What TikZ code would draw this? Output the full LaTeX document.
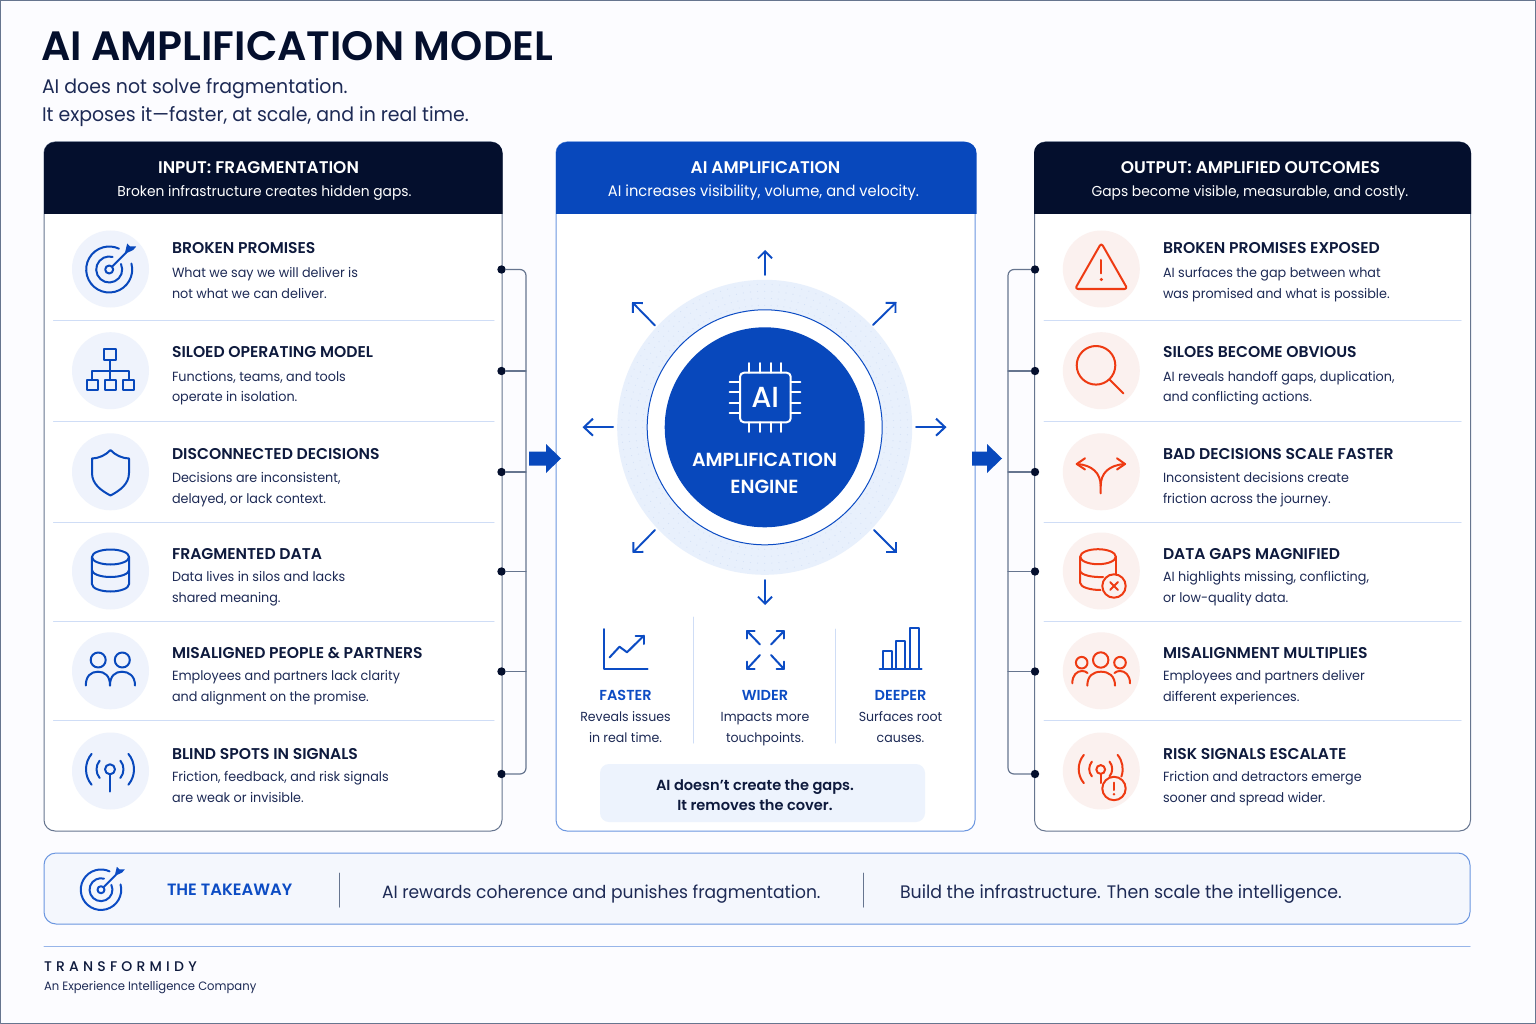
\documentclass[tikz,border=0pt]{standalone}
\usepackage{fontspec}
\usetikzlibrary{arrows.meta}
\setmainfont{Poppins}[FakeStretch=0.96]
\newfontfamily\fsemi{Poppins SemiBold}
\newfontfamily\fmed{Poppins Medium}
\definecolor{navy}{HTML}{040F2D}
\definecolor{ink}{HTML}{0E1A3D}
\definecolor{bodyink}{HTML}{1D2A55}
\definecolor{royal}{HTML}{0848BC}
\definecolor{ablue}{HTML}{0C4CC4}
\definecolor{rust}{HTML}{EE3A12}
\definecolor{sep}{HTML}{CFDDF6}
\definecolor{lgrey}{HTML}{66758F}
\definecolor{mblue}{HTML}{6B96E0}
\definecolor{pale}{HTML}{E8F0FC}
\definecolor{iconl}{HTML}{EFF3FC}
\definecolor{iconr}{HTML}{FBF1EF}
\newcommand\txt[5][]{\node[txtbase,#1] (#2) at (#3,#4) {#5};}
\newcommand\rowtext[8]{%
  \txt[rowtitle]{#1a}{#2}{#3}{#6}
  \txt[rowbody]{#1b}{#2}{#4}{#7}
  \txt[rowbody]{#1c}{#2}{#5}{#8}}
\newcommand\targeticon[4]{% x y scale colour
 \begin{scope}[shift={(#1,#2)},scale=#3,#4,line width=2pt]
  \draw (0,0) +(-15:23) arc (-15:295:23);
  \draw (0,0) +(-25:13) arc (-25:285:13);
  \draw (0,0) circle (4);
  \draw (2.8,-2.8) -- (17,-17);
  \fill[line width=.5pt] (15.5,-15.5) -- (18,-26) -- (21,-23) -- (27,-23) -- (24,-19.5) -- cycle;
 \end{scope}}
\begin{document}
\begin{tikzpicture}[x=1pt,y=1pt,yscale=-1,line cap=round,line join=round,
  txtbase/.style={inner sep=0pt,outer sep=0pt,anchor=base west,text=ink},
  rowtitle/.style={font=\fontsize{15.6}{17}\fsemi,text=ink},
  rowbody/.style={font=\fontsize{13.3}{15}\selectfont,text=bodyink},
  headtitle/.style={inner sep=0pt,anchor=base,text=white,font=\fontsize{16.9}{18}\fsemi},
  headsub/.style={inner sep=0pt,anchor=base,text=white,font=\fontsize{14.4}{16}\selectfont},
  colhead/.style={inner sep=0pt,anchor=base,text=ablue,font=\fontsize{14.5}{16}\fsemi},
  coltext/.style={inner sep=0pt,anchor=base,text=bodyink,font=\fontsize{13.1}{15}\selectfont},
  panel/.style={draw,rounded corners=11pt,minimum width=#1,inner sep=0pt,outer sep=0pt,fill=white,line width=1pt},
  iconbg/.style={circle,inner sep=0pt,outer sep=0pt,minimum size=77pt},
  dotn/.style={circle,fill=navy,inner sep=0pt,outer sep=0pt,minimum size=8.4pt},
  sepline/.style={draw=sep,line width=1pt},
  bus/.style={draw=lgrey,line width=1.2pt},
  ray/.style={draw=ablue,line width=1.9pt,-{Straight Barb[length=7pt,width=14pt,line width=1.9pt]}},
  rayh/.style={draw=ablue,line width=2pt,-{Straight Barb[length=9pt,width=17pt,line width=2pt]}},
  bico/.style={draw=royal,line width=2pt},
  rico/.style={draw=rust,line width=2pt},
  cico/.style={draw=ablue,line width=2pt},
]
\useasboundingbox (0,0) rectangle (1536,1024);
\fill[white!99!blue] (0,0) rectangle (1536,1024);
\draw[draw=lgrey,line width=1pt] (0.4,0.4) rectangle (1535.6,1023.6);

% title
\txt[font=\fontsize{41}{44}\fsemi,text=navy]{title}{41}{60.5}{AI AMPLIFICATION MODEL}
\txt[font=\fontsize{19.7}{22}\selectfont,text=bodyink]{sub1}{42}{94}{AI does not solve fragmentation.}
\txt[font=\fontsize{19.7}{22}\selectfont,text=bodyink]{sub2}{42}{122}{It exposes it—faster, at scale, and in real time.}

% panels
\node[panel=458pt,draw=lgrey,minimum height=689pt] (leftp) at (273,486.5) {};
\node[panel=419pt,draw=mblue,minimum height=689pt] (midp) at (765.5,486.5) {};
\node[panel=436pt,draw=lgrey,minimum height=689pt] (rightp) at (1252.5,486.5) {};
\fill[navy] (44,214) [rounded corners=11pt] -- (44,142) -- (502.5,142) [sharp corners] -- (502.5,214) -- cycle;
\fill[royal] (556,214) [rounded corners=11pt] -- (556,142) -- (976.5,142) [sharp corners] -- (976.5,214) -- cycle;
\fill[navy] (1034,214) [rounded corners=11pt] -- (1034,142) -- (1471,142) [sharp corners] -- (1471,214) -- cycle;
\node[headtitle] (h1) at (258.5,174) {INPUT: FRAGMENTATION};
\node[headsub] (h1s) at (264.5,196.5) {Broken infrastructure creates hidden gaps.};
\node[headtitle] (h2) at (765.5,174) {AI AMPLIFICATION};
\node[headsub,font=\fontsize{15.3}{16}\selectfont] (h2s) at (763.5,196.5) {AI increases visibility, volume, and velocity.};
\node[headtitle] (h3) at (1250.5,174) {OUTPUT: AMPLIFIED OUTCOMES};
\node[headsub] (h3s) at (1250,196.5) {Gaps become visible, measurable, and costly.};

% separators
\foreach \y in {320.5,421.5,522,621,720.5}{
  \draw[sepline] (53.5,\y) -- (494,\y);
  \draw[sepline] (1044,\y) -- (1461,\y);
}

% left rows
\rowtext{la}{172}{254}{278}{298.5}{BROKEN PROMISES}{What we say we will deliver is}{not what we can deliver.}
\rowtext{lb}{172}{357.5}{381}{401.5}{SILOED OPERATING MODEL}{Functions, teams, and tools}{operate in isolation.}
\rowtext{lc}{172}{459.5}{482.5}{503.5}{DISCONNECTED DECISIONS}{Decisions are inconsistent,}{delayed, or lack context.}
\rowtext{ld}{172}{559}{581.5}{602.5}{FRAGMENTED DATA}{Data lives in silos and lacks}{shared meaning.}
\rowtext{le}{172}{658}{680.5}{701.5}{MISALIGNED PEOPLE \& PARTNERS}{Employees and partners lack clarity}{and alignment on the promise.}
\rowtext{lf}{172}{759}{781.5}{802}{BLIND SPOTS IN SIGNALS}{Friction, feedback, and risk signals}{are weak or invisible.}
% right rows
\rowtext{ra}{1163}{254}{278}{298.5}{BROKEN PROMISES EXPOSED}{AI surfaces the gap between what}{was promised and what is possible.}
\rowtext{rb}{1163}{357.5}{381}{401.5}{SILOES BECOME OBVIOUS}{AI reveals handoff gaps, duplication,}{and conflicting actions.}
\rowtext{rc}{1163}{459.5}{482.5}{503.5}{BAD DECISIONS SCALE FASTER}{Inconsistent decisions create}{friction across the journey.}
\rowtext{rd}{1163}{559}{581.5}{602.5}{DATA GAPS MAGNIFIED}{AI highlights missing, conflicting,}{or low-quality data.}
\rowtext{re}{1163}{658}{680.5}{701.5}{MISALIGNMENT MULTIPLIES}{Employees and partners deliver}{different experiences.}
\rowtext{rf}{1163}{759}{781.5}{802}{RISK SIGNALS ESCALATE}{Friction and detractors emerge}{sooner and spread wider.}

% icon discs
\foreach \n/\y in {a/269,b/370.7,c/471.8,d/571,e/670.8,f/771}{
  \node[iconbg,fill=iconl] (il\n) at (110.5,\y) {};
  \node[iconbg,fill=iconr] (ir\n) at (1101.3,\y) {};
}

% left icons
\targeticon{109.2}{269.5}{1}{royal,draw=royal,fill=royal}
% hierarchy
\draw[bico] (104.4,348.7) rectangle (116.4,360);
\draw[bico] (110.3,360) -- (110.3,380);
\draw[bico] (92.2,380) -- (92.2,370.7) -- (128.7,370.7) -- (128.7,380);
\draw[bico] (86.8,380) rectangle (97.5,390);
\draw[bico] (105,380) rectangle (116,390);
\draw[bico] (123.3,380) rectangle (134,390);
% shield
\draw[bico] (110.5,450) .. controls (115,455) and (122,458.3) .. (129,458.5) -- (129,473) .. controls (129,484) and (120,490.5) .. (110.5,495.5) .. controls (101,490.5) and (92,484) .. (92,473) -- (92,458.5) .. controls (99,458.3) and (106,455) .. (110.5,450) -- cycle;
% database
\draw[bico] (110.5,557) ellipse (18.6 and 7.5);
\draw[bico] (91.9,557) -- (91.9,584) arc (180:0:18.6 and 7.5) -- (129.1,557);
\draw[bico] (91.9,570) arc (180:0:18.6 and 7);
% people
\draw[bico] (98.2,660) circle (7.5);
\draw[bico] (122.3,660) circle (7.5);
\draw[bico] (85.8,685.5) .. controls (85.8,676) and (91,671.7) .. (98,671.7) .. controls (105,671.7) and (110,676) .. (110,685.5);
\draw[bico] (110,685.5) .. controls (110,676) and (115,671.7) .. (122,671.7) .. controls (129,671.7) and (135,676) .. (135,685.5);
% signal
\draw[bico] (110,769.3) circle (5);
\draw[bico] (110,774.3) -- (110,791.5);
\draw[bico] (110,769.3) +(-40:13.5) arc (-40:40:13.5);
\draw[bico] (110,769.3) +(140:13.5) arc (140:220:13.5);
\draw[bico] (110,769.3) +(-40:24) arc (-40:40:24);
\draw[bico] (110,769.3) +(140:24) arc (140:220:24);

% right icons
\draw[rico,rounded corners=3pt] (1101.3,243) -- (1127.5,289) -- (1075,289) -- cycle;
\draw[rico] (1101.3,260) -- (1101.3,273.3);
\fill[rust] (1101.3,279.5) circle (1.7);
\draw[rico] (1096,365.3) circle (19.3);
\draw[rico] (1109.6,379.6) -- (1123.3,393.3);
\draw[rico] (1100.7,493.3) -- (1100.7,486) .. controls (1100.7,473) and (1092,465) .. (1077,464);
\draw[rico] (1100.7,486) .. controls (1100.7,473) and (1109,465) .. (1125,464);
\draw[rico] (1085,458.3) -- (1076.7,464) -- (1085,469.5);
\draw[rico] (1117,458.3) -- (1125,464) -- (1117,469.5);
\draw[rico] (1098,556.7) ellipse (17.8 and 7.5);
\draw[rico] (1080.2,556.7) -- (1080.2,583) .. controls (1080.2,587) and (1090,590) .. (1100.5,590);
\draw[rico] (1080.2,571) .. controls (1081,575) and (1092,577.5) .. (1103,577);
\draw[rico] (1115.8,556.7) -- (1115.8,574);
\draw[rico] (1114,586) circle (11.7);
\draw[rico] (1110.2,582.2) -- (1117.8,589.8);
\draw[rico] (1117.8,582.2) -- (1110.2,589.8);
\draw[rico] (1100.7,660) circle (7.7);
\draw[rico] (1081.7,662.7) circle (5.8);
\draw[rico] (1120,662.7) circle (5.8);
\draw[rico] (1087.3,685.7) .. controls (1087.3,676) and (1093,671.7) .. (1101,671.7) .. controls (1109,671.7) and (1115,676) .. (1115,685.7);
\draw[rico] (1072.3,683.3) .. controls (1072.3,675) and (1077,671) .. (1082,671) .. controls (1084,671) and (1086,671.5) .. (1087.5,673);
\draw[rico] (1130,683.3) .. controls (1130,675) and (1125,671) .. (1120,671) .. controls (1118,671) and (1116,671.5) .. (1114.5,673);
\draw[rico] (1100.7,769.5) circle (4.4);
\draw[rico] (1100.7,774) -- (1100.7,783);
\draw[rico] (1100.7,769) +(140:11.5) arc (140:220:11.5);
\draw[rico] (1100.7,769) +(-40:11.5) arc (-40:40:11.5);
\draw[rico] (1100.7,769) +(140:22) arc (140:220:22);
\draw[rico] (1100.7,769) +(-40:22) arc (-40:20:22);
\draw[rico] (1114,788.5) circle (11.7);
\draw[rico] (1114,782.5) -- (1114,790);
\fill[rust] (1114,794.2) circle (1.4);

% bus
\foreach \n/\y in {1/269.5,2/371,3/472,4/571.5,5/671.5,6/774}{
  \node[dotn] (ld\n) at (501.5,\y) {};
  \coordinate (lb\n) at (526,\y);
  \node[dotn] (rd\n) at (1035,\y) {};
  \coordinate (rb\n) at (1008,\y);
}
\draw[bus,rounded corners=6pt] (ld1) -- (lb1) -- (lb6) -- (ld6);
\draw[bus,rounded corners=6pt] (rd1) -- (rb1) -- (rb6) -- (rd6);
\foreach \i in {2,3,4,5}{
  \draw[bus] (ld\i) -- (lb\i);
  \draw[bus] (rd\i) -- (rb\i);
}
% block arrows
\fill[royal] (529,451.5) -- (546,451.5) -- (546,444) -- (561,458.5) -- (546,473) -- (546,465.5) -- (529,465.5) -- cycle;
\fill[royal] (972,451.5) -- (987,451.5) -- (987,444) -- (1002,458.5) -- (987,473) -- (987,465.5) -- (972,465.5) -- cycle;

% engine
\fill[pale] (764.7,427.3) circle (147.5);
\foreach \r in {122,129,136,143}{
  \foreach \a in {0,3,...,357}{
    \fill[sep!80!pale] (764.7,427.3) +(\a:\r) circle (0.55);
  }
}
\fill[white] (764.7,427.3) circle (117.5);
\draw[draw=ablue,line width=1pt] (764.7,427.3) circle (117.5);
\node[circle,fill=royal,inner sep=0pt,minimum size=200pt] (engine) at (764.7,427.3) {};
\draw[white,line width=2pt,rounded corners=4pt] (740,372.7) rectangle (790.7,422.3);
\foreach \p in {749.3,760,770.7,781.3}{
  \draw[white,line width=1.9pt] (\p,363) -- (\p,372.7);
  \draw[white,line width=1.9pt] (\p,422.3) -- (\p,432);
}
\foreach \p in {381.7,392.3,402.7,413.3}{
  \draw[white,line width=1.9pt] (729.5,\p) -- (740,\p);
  \draw[white,line width=1.9pt] (790.7,\p) -- (800.5,\p);
}
\node[inner sep=0pt,anchor=base,text=white,font=\fontsize{29}{30}\fmed] (chipt) at (765.2,407.7) {AI};
\node[inner sep=0pt,anchor=base,text=white,font=\fontsize{19}{22}\fsemi] (eng1) at (764.5,466) {AMPLIFICATION};
\node[inner sep=0pt,anchor=base,text=white,font=\fontsize{19}{22}\fsemi] (eng2) at (764.5,493.5) {ENGINE};
% rays
\draw[ray] (765,275) -- (765,250);
\draw[ray] (765,580) -- (765,605);
\draw[rayh] (916,427.2) -- (946.5,427.2);
\draw[rayh] (613,427.2) -- (582.5,427.2);
\draw[ray] (873,325) -- (896.5,302);
\draw[ray] (655,325.5) -- (632,302);
\draw[ray] (655,530) -- (632.5,553);
\draw[ray] (874,530) -- (897,553);

% columns
\draw[sepline] (693.5,617) -- (693.5,743);
\draw[sepline] (835.5,629) -- (835.5,743);
\draw[cico] (604.4,629) -- (604.4,668.5) -- (647.5,668.5);
\draw[cico] (609.5,657.5) -- (619.5,646.7) -- (627,652.3) -- (644,635.5);
\draw[cico] (635.5,635.5) -- (644,635.5) -- (644,644);
\draw[cico] (760,644.5) -- (747,631); \draw[cico] (747,638.5) -- (747,631) -- (754.5,631);
\draw[cico] (771,644.5) -- (784,631); \draw[cico] (776.5,631) -- (784,631) -- (784,638.5);
\draw[cico] (760,655) -- (747,669); \draw[cico] (747,661.5) -- (747,669) -- (754.5,669);
\draw[cico] (771,655) -- (784,669); \draw[cico] (776.5,669) -- (784,669) -- (784,661.5);
\draw[cico] (879.5,668.5) -- (921.5,668.5);
\draw[cico] (882.8,668.5) rectangle (892,651);
\draw[cico] (896.2,668.5) rectangle (905.3,641.3);
\draw[cico] (909.5,668.5) rectangle (918.5,627.5);
\node[colhead] (c1a) at (625.5,700) {FASTER};
\node[coltext] (c1b) at (625.5,721.5) {Reveals issues};
\node[coltext] (c1c) at (625.5,742) {in real time.};
\node[colhead] (c2a) at (765,700) {WIDER};
\node[coltext] (c2b) at (765,721.5) {Impacts more};
\node[coltext] (c2c) at (765,742) {touchpoints.};
\node[colhead] (c3a) at (900.5,700) {DEEPER};
\node[coltext] (c3b) at (900.5,721.5) {Surfaces root};
\node[coltext] (c3c) at (900.5,742) {causes.};
% callout
\node[fill=pale!80!white,rounded corners=9pt,inner sep=0pt,minimum width=325pt,minimum height=58pt] (call) at (762.5,793) {};
\node[inner sep=0pt,anchor=base,text=ink,font=\fontsize{14.6}{16}\fsemi] (call1) at (755,790) {AI doesn’t create the gaps.};
\node[inner sep=0pt,anchor=base,text=ink,font=\fontsize{14.6}{16}\fsemi] (call2) at (755,810) {It removes the cover.};

% takeaway
\node[draw=mblue,fill=iconl!70!white,rounded corners=12pt,line width=1pt,inner sep=0pt,minimum width=1426pt,minimum height=71pt] (take) at (757,888.5) {};
\targeticon{101}{889.7}{0.88}{ablue,draw=ablue,fill=ablue}
\txt[font=\fontsize{16.4}{19}\fsemi,text=ablue]{takeh}{167}{895}{THE TAKEAWAY}
\draw[draw=lgrey,line width=1pt] (339.5,873) -- (339.5,907);
\draw[draw=lgrey,line width=1pt] (863,873) -- (863,907);
\txt[font=\fontsize{17.8}{20}\selectfont,text=bodyink]{tak1}{382}{898}{AI rewards coherence and punishes fragmentation.}
\txt[font=\fontsize{18.1}{20}\selectfont,text=bodyink]{tak2}{900}{898}{Build the infrastructure. Then scale the intelligence.}

% footer
\draw[draw=mblue!70!white,line width=1pt] (44,946.5) -- (1470,946.5);
\txt[font=\fontsize{14}{15}\fmed\addfontfeatures{LetterSpace=30},text=ink]{foot1}{44}{971.5}{TRANSFORMIDY}
\txt[font=\fontsize{12.1}{14}\selectfont,text=bodyink]{foot2}{44}{990.5}{An Experience Intelligence Company}
\end{tikzpicture}
\end{document}
